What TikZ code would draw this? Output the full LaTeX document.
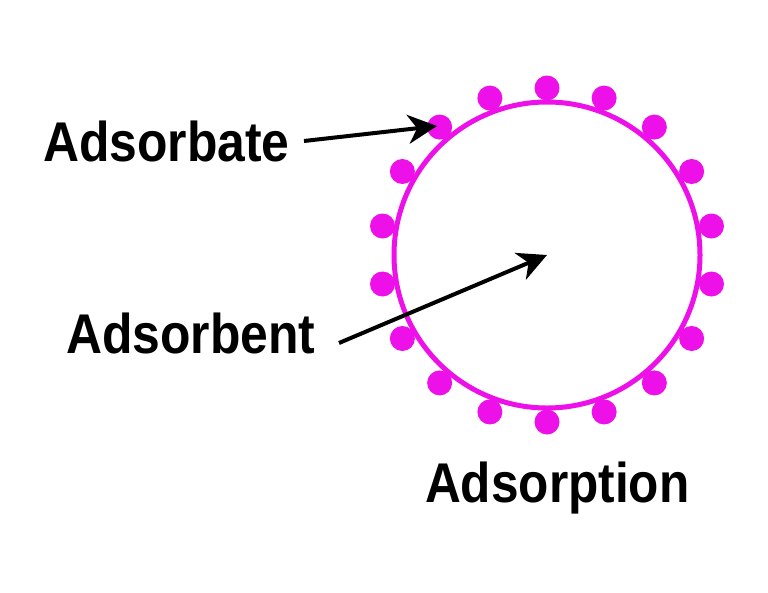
\documentclass[tikz,border=0pt]{standalone}
\usepackage{fontspec}
\setmainfont{Liberation Sans}
\usetikzlibrary{arrows.meta,calc}
\definecolor{mag}{RGB}{238,16,232}
\begin{document}
\begin{tikzpicture}[x=1pt,y=-1pt,
  lbl/.style={inner sep=0pt,anchor=base west,font=\fontsize{56}{60}\selectfont\bfseries},
  ptr/.style={line width=4pt,-{Stealth[length=29pt,width=29pt,inset=9pt]}},
  dot/.style={circle,fill=mag,minimum size=25pt,inner sep=0pt}]
\useasboundingbox (0,0) rectangle (768,592);
\fill[white] (0,0) rectangle (768,592);
\coordinate (c) at (547,255);
\draw[mag,line width=5pt] (c) circle[radius=153];
\foreach \k in {0,...,17}{
  \node[dot] (d\k) at ($(c)+({90+20*\k}:{167} and {-167})$) {};
}
\node[lbl] (t1) at (43,161) {\scalebox{0.89}[1]{Adsorbate}};
\node[lbl] (t2) at (66,353) {\scalebox{0.89}[1]{Adsorbent}};
\node[lbl] (t3) at (425,502) {\scalebox{0.885}[1]{Adsorption}};
\coordinate (s1) at (304,141);
\coordinate (e1) at (437,126);
\coordinate (s2) at (339,343);
\coordinate (e2) at (547,255);
\draw[ptr] (s1) -- (e1);
\draw[ptr] (s2) -- (e2);
\end{tikzpicture}
\end{document}
